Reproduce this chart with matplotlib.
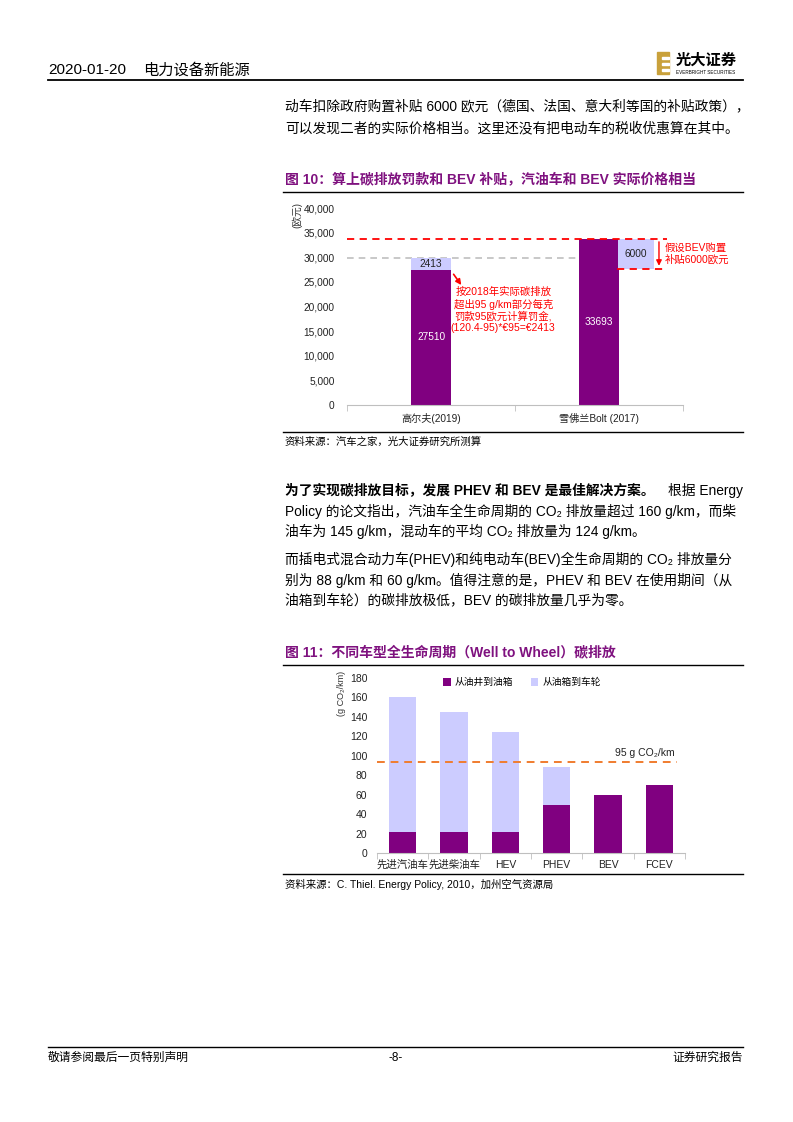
import matplotlib
matplotlib.use("Agg")
import matplotlib.pyplot as plt
from matplotlib.patches import Rectangle
from matplotlib.lines import Line2D

plt.rcParams['font.family'] = ['Liberation Sans', 'Noto Sans CJK SC']

W, H = 793, 1122
PURPLE = '#800080'
LAVENDER = '#CCCCFF'
TITLE_C = '#7F117F'
RED = '#FF0000'
ORANGE = '#F07C2E'

# chart 1: price (EUR)
cars1 = ['高尔夫(2019)', '雪佛兰Bolt (2017)']
base_price = [27510, 33693]
co2_fine = [2413, 0]
bev_subsidy = 6000

# chart 2: well-to-wheel CO2 (g/km)
cars2 = ['先进汽油车', '先进柴油车', 'HEV', 'PHEV', 'BEV', 'FCEV']
well_to_tank = [22, 22, 22, 49, 60, 70]
tank_to_wheel = [138, 123, 102, 39, 0, 0]
target = 94


def fx(x):
    return x / W


def fy(y):
    return 1 - y / H


fig = plt.figure(figsize=(W / 100, H / 100), dpi=100)


def ftext(x, y, s, **kw):
    kw.setdefault('va', 'center')
    fig.text(fx(x), fy(y), s, **kw)


def hrule(y, x0=283, x1=743, lw=1.0, color='black'):
    fig.add_artist(Line2D([fx(x0), fx(x1)], [fy(y), fy(y)], lw=lw, color=color))


# ---- page header / footer ----
ftext(48, 70, '2020-01-20', fontsize=11)
ftext(143, 70, '电力设备新能源', fontsize=11)
hrule(80, 48, 743, lw=1.3)
fig.add_artist(Rectangle((fx(657), fy(74)), 12 / W, 22 / H, color='#C9A13B'))
for yy in (57, 63, 69):
    fig.add_artist(Rectangle((fx(662), fy(yy + 2)), 7 / W, 2 / H, color='white'))
ftext(676, 61, '光大证券', fontsize=11, fontweight='bold')
ftext(676, 72, 'EVERBRIGHT SECURITIES', fontsize=3.3)

hrule(1047, 48, 743, lw=1.0)
ftext(48, 1058, '敬请参阅最后一页特别声明', fontsize=8.5)
ftext(396, 1058, '-8-', fontsize=8.5, ha='center')
ftext(743, 1058, '证券研究报告', fontsize=8.5, ha='right')

# ---- body text ----
body = 9.9
ftext(285, 106, '动车扣除政府购置补贴 6000 欧元（德国、法国、意大利等国的补贴政策），', fontsize=body)
ftext(285, 128, '可以发现二者的实际价格相当。这里还没有把电动车的税收优惠算在其中。', fontsize=body)

ftext(285, 490, '为了实现碳排放目标，发展 PHEV 和 BEV 是最佳解决方案。', fontsize=body, fontweight='bold')
ftext(743, 490, '根据 Energy', fontsize=body, ha='right')
ftext(285, 511, 'Policy 的论文指出，汽油车全生命周期的 CO₂ 排放量超过 160 g/km，而柴', fontsize=body)
ftext(285, 531, '油车为 145 g/km，混动车的平均 CO₂ 排放量为 124 g/km。', fontsize=body)
ftext(285, 559, '而插电式混合动力车(PHEV)和纯电动车(BEV)全生命周期的 CO₂ 排放量分', fontsize=body)
ftext(285, 580, '别为 88 g/km 和 60 g/km。值得注意的是，PHEV 和 BEV 在使用期间（从', fontsize=body)
ftext(285, 600, '油箱到车轮）的碳排放极低，BEV 的碳排放量几乎为零。', fontsize=body)

# ---- chart 1 ----
ftext(285, 179, '图 10：算上碳排放罚款和 BEV 补贴，汽油车和 BEV 实际价格相当',
      fontsize=10, fontweight='bold', color=TITLE_C)
hrule(192)
hrule(432)
ftext(285, 442, '资料来源：汽车之家，光大证券研究所测算', fontsize=7.5)

ax1 = fig.add_axes([fx(347), fy(405), (683 - 347) / W, (405 - 208) / H])
x1 = list(range(len(cars1)))
bw = 0.244
ax1.bar(x1, base_price, bw, color=PURPLE, zorder=2)
ax1.bar(x1[0], co2_fine[0], bw, bottom=base_price[0], color=LAVENDER, zorder=2)
sub_x = x1[1] + 0.22
ax1.bar(sub_x, bev_subsidy, 0.214, bottom=base_price[1] - bev_subsidy, color=LAVENDER, zorder=2)

ax1.hlines(base_price[0] + co2_fine[0], -0.5, 1.0, colors='#BFBFBF', linestyles=(0, (4, 3)), lw=1.2, zorder=1)
ax1.hlines(base_price[1], -0.5, 1.405, colors=RED, linestyles=(0, (4, 3)), lw=1.3, zorder=3)
ax1.hlines(base_price[1] - bev_subsidy, 1.107, 1.405, colors=RED, linestyles=(0, (4, 3)), lw=1.3, zorder=3)
ax1.annotate('', xy=(1.357, base_price[1] - bev_subsidy), xytext=(1.357, base_price[1]),
             arrowprops=dict(arrowstyle='-|>', color=RED, lw=1.0, mutation_scale=8))
ax1.text(1.39, base_price[1] - bev_subsidy / 2, '假设BEV购置\n补贴6000欧元', color=RED,
         fontsize=7.5, va='center', ha='left', linespacing=1.3)

ax1.text(x1[0], base_price[0] / 2, f'{base_price[0]}', color='white', fontsize=7.3, ha='center', va='center', zorder=4)
ax1.text(x1[0], base_price[0] + co2_fine[0] / 2, f'{co2_fine[0]}', color='#222222', fontsize=7.3, ha='center', va='center', zorder=4)
ax1.text(x1[1], base_price[1] / 2, f'{base_price[1]}', color='white', fontsize=7.3, ha='center', va='center', zorder=4)
ax1.text(sub_x, base_price[1] - bev_subsidy / 2, f'{bev_subsidy}', color='#222222', fontsize=7.3, ha='center', va='center', zorder=4)

ax1.annotate('', xy=(0.19, 23900), xytext=(0.125, 27000),
             arrowprops=dict(arrowstyle='-|>', color=RED, lw=1.2, mutation_scale=8))
ax1.text(0.43, 19300, '按2018年实际碳排放\n超出95 g/km部分每克\n罚款95欧元计算罚金,\n(120.4-95)*€95=€2413',
         color=RED, fontsize=7.5, ha='center', va='center', linespacing=1.15)

ax1.set_xlim(-0.5, 1.5)
ax1.set_ylim(0, 40000)
ax1.set_yticks(range(0, 40001, 5000))
ax1.set_yticklabels([f'{v:,}' for v in range(0, 40001, 5000)], fontsize=7.3, color='#222222')
ax1.set_xticks(x1)
ax1.set_xticklabels(cars1, fontsize=7.3, color='#222222')
ax1.set_xticks([-0.5, 0.5, 1.5], minor=True)
ax1.tick_params(axis='y', length=0, pad=9)
ax1.tick_params(axis='x', which='major', length=0, pad=6)
ax1.tick_params(axis='x', which='minor', length=4, color='#BFBFBF')
for s in ('left', 'top', 'right'):
    ax1.spines[s].set_visible(False)
ax1.spines['bottom'].set_color('#BFBFBF')
ax1.patch.set_alpha(0)
ftext(297, 215, '(欧元)', fontsize=7, rotation=90, ha='center', color='#333333')

# ---- chart 2 ----
ftext(285, 652, '图 11：不同车型全生命周期（Well to Wheel）碳排放',
      fontsize=10, fontweight='bold', color=TITLE_C)
hrule(665)
hrule(874)
ftext(285, 884, '资料来源：C. Thiel. Energy Policy, 2010，加州空气资源局', fontsize=7.5)

ax2 = fig.add_axes([fx(377), fy(853), (685 - 377) / W, (853 - 678) / H])
x2 = list(range(len(cars2)))
ax2.bar(x2, well_to_tank, 0.53, color=PURPLE, label='从油井到油箱', zorder=2)
ax2.bar(x2, tank_to_wheel, 0.53, bottom=well_to_tank, color=LAVENDER, label='从油箱到车轮', zorder=2)
ax2.hlines(target, -0.5, 5.35, colors=ORANGE, linestyles=(0, (4, 3)), lw=1.4, zorder=3)
ax2.text(5.3, 103, '95 g CO₂/km', fontsize=7.5, ha='right', va='center', color='#222222')

ax2.set_xlim(-0.5, 5.5)
ax2.set_ylim(0, 180)
ax2.set_yticks(range(0, 181, 20))
ax2.tick_params(axis='y', length=0, pad=7, labelsize=7.5, labelcolor='#222222')
ax2.set_xticks(x2)
ax2.set_xticklabels(cars2, fontsize=7.5, color='#222222')
ax2.set_xticks([i - 0.5 for i in range(len(cars2) + 1)], minor=True)
ax2.tick_params(axis='x', which='major', length=0, pad=5)
ax2.tick_params(axis='x', which='minor', length=4, color='#BFBFBF')
for s in ('left', 'top', 'right'):
    ax2.spines[s].set_visible(False)
ax2.spines['bottom'].set_color('#BFBFBF')
ax2.patch.set_alpha(0)
ax2.legend(loc='center', bbox_to_anchor=(0.47, 0.975), ncol=2, frameon=False, fontsize=7,
           handlelength=0.8, handleheight=0.8, columnspacing=1.8, handletextpad=0.4)
ftext(342, 693, '(g CO₂/km)', fontsize=6.5, rotation=90, ha='center', color='#333333')

fig.savefig('out.png', dpi=100)
